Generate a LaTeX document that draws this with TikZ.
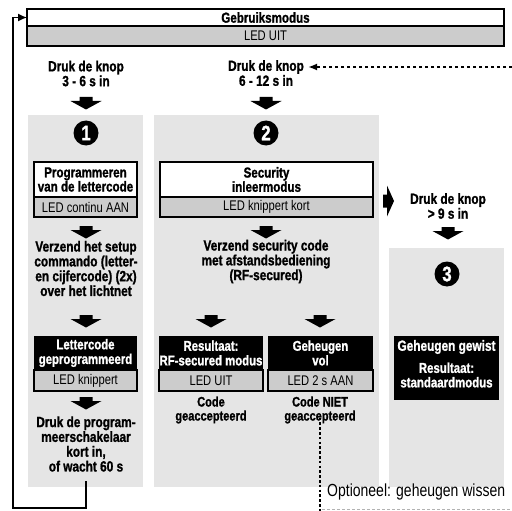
\documentclass[tikz,border=0pt]{standalone}
\usepackage{fontspec}
\setmainfont{Liberation Sans}[FakeStretch=0.8, BoldFeatures={FakeBold=1.2}]
\usetikzlibrary{arrows.meta}
\definecolor{panelgray}{RGB}{229,229,229}
\definecolor{ledgray}{RGB}{204,204,204}
\begin{document}
\begin{tikzpicture}[x=1pt,y=-1pt,
  bt/.style={font=\fontsize{14.8}{14.8}\selectfont\bfseries, align=center, inner sep=0pt},
  rt/.style={font=\fontsize{14}{14}\selectfont, align=center, inner sep=0pt},
  titlebox/.style={draw=black, line width=1.4pt, fill=white, inner sep=0pt, outer sep=0pt,
    align=center, font=\fontsize{14.5}{14.2}\selectfont\bfseries},
  darkbox/.style={fill=black, text=white, inner sep=0pt, outer sep=0pt,
    align=center, font=\fontsize{14.2}{14.6}\selectfont\bfseries},
  ledbox/.style={draw=black, line width=1.4pt, fill=ledgray, inner sep=0pt, outer sep=0pt,
    font=\fontsize{14}{14}\selectfont, minimum height=20pt},
  stepnum/.style={circle, fill=black, text=white, minimum size=25pt, inner sep=0pt,
    font=\fontsize{21}{21}\selectfont\bfseries},
  panel/.style={fill=panelgray},
  fatdown/.pic={\fill (-6.5,0) -- (6.5,0) -- (6.5,4) -- (15.5,4) -- (0,12.5) -- (-15.5,4) -- (-6.5,4) -- cycle;},
  fatright/.pic={\fill (0,-6.5) -- (0,6.5) -- (4,6.5) -- (4,15.5) -- (11,0) -- (4,-15.5) -- (4,-6.5) -- cycle;},
  backloop/.style={line width=1.4pt, -{Latex[length=9pt,width=8pt]}},
  dasharrow/.style={line width=2pt, dash pattern=on 3.5pt off 2.5pt, -{Latex[length=9pt,width=7pt]}},
  dotline/.style={line width=2.6pt, dash pattern=on 2.6pt off 2.2pt},
]
\useasboundingbox (0,0) rectangle (512,511);

% grey step panels
\fill[panel] (28,115) rectangle (143,487);
\fill[panel] (154,115) rectangle (379,487);
\fill[panel] (389,248) rectangle (504,487);

% normal mode
\node[titlebox, minimum width=477pt, minimum height=17pt] (gebr) at (265.5,17.5) {Gebruiksmodus};
\node[ledbox, anchor=north, minimum width=477pt] (gebrled) at (gebr.south) {LED UIT};

% entry conditions
\node[bt] (knop1) at (86,73.5) {Druk de knop\\3 - 6 s in};
\node[bt] (knop2a) at (266,67) {Druk de knop};
\node[bt] (knop2b) at (266,80.5) {6 - 12 s in};
\pic at (86,97) {fatdown};
\pic at (266,97) {fatdown};

% step 1
\node[stepnum] (n1) at (86,133) {1};
\node[titlebox, minimum width=103pt, minimum height=35pt] (t1) at (85.5,179.5) {Programmeren\\van de lettercode};
\node[ledbox, anchor=north, minimum width=103pt] (l1) at (t1.south) {LED continu AAN};
\pic at (86,226) {fatdown};
\node[bt] (send1) at (86,268.5) {Verzend het setup\\commando (letter-\\en cijfercode) (2x)\\over het lichtnet};
\pic at (86,315) {fatdown};
\node[darkbox, minimum width=103pt, minimum height=34pt] (r1) at (85.5,353) {Lettercode\\geprogrammeerd};
\node[ledbox, anchor=north, minimum width=103pt, minimum height=21pt] (rl1) at (r1.south) {LED knippert};
\pic at (86,397) {fatdown};
\node[bt] (wait1) at (86,444) {Druk de program-\\meerschakelaar\\kort in,\\of wacht 60 s};

% step 2
\node[stepnum] (n2) at (266,133) {2};
\node[titlebox, minimum width=213pt, minimum height=35pt] (t2) at (266.5,179.5) {Security\\inleermodus};
\node[ledbox, anchor=north, minimum width=213pt] (l2) at (t2.south) {LED knippert kort};
\pic at (266,226) {fatdown};
\node[bt] (send2) at (266,261.5) {Verzend security code\\met afstandsbediening\\(RF-secured)};
\pic at (211,315) {fatdown};
\pic at (320,315) {fatdown};
\node[darkbox, minimum width=104pt, minimum height=34pt] (r2a) at (211,353) {Resultaat:\\RF-secured modus};
\node[ledbox, anchor=north, minimum width=104pt, minimum height=21pt] (rl2a) at (r2a.south) {LED UIT};
\node[darkbox, minimum width=105pt, minimum height=34pt] (r2b) at (320.5,353) {Geheugen\\vol};
\node[ledbox, anchor=north, minimum width=105pt, minimum height=21pt] (rl2b) at (r2b.south) {LED 2 s AAN};
\node[bt, font=\fontsize{13.8}{14}\selectfont\bfseries] (ok2a) at (211,410) {Code\\geaccepteerd};
\node[bt, font=\fontsize{13.8}{14}\selectfont\bfseries] (ok2b) at (320,410) {Code NIET\\geaccepteerd};

% step 3
\pic at (383,201) {fatright};
\node[bt] (knop3) at (448,206) {Druk de knop\\> 9 s in};
\pic at (448,227) {fatdown};
\node[stepnum] (n3) at (447,274) {3};
\node[darkbox, minimum width=105pt, minimum height=64pt] (r3) at (446.5,368) {};
\node[bt, text=white] (r3a) at (446.5,347) {Geheugen gewist};
\node[bt, text=white, font=\fontsize{14.3}{14.5}\selectfont\bfseries] (r3b) at (446.5,375) {Resultaat:\\standaardmodus};

% return path to normal mode
\coordinate (loopstart) at (86,481);
\coordinate (loopcorner) at (13,508);
\draw[backloop] (loopstart) |- (loopcorner) |- (gebr.west);

% optional memory clear path
\coordinate (dashstart) at (512,67);
\draw[dasharrow] (dashstart) -- ([xshift=4pt]knop2a.east);
\coordinate (dotend) at (320,511);
\draw[dotline] ([yshift=6pt]ok2b.south) -- (dotend);
\node[rt, font=\fontsize{17.5}{17}\selectfont, anchor=west] (opt) at (327,492) {Optioneel: geheugen wissen};
\coordinate (faintstart) at (322,509);
\coordinate (faintend) at (512,509);
\draw[gray!60, line width=0.8pt, dash pattern=on 3pt off 2pt] (faintstart) -- (faintend);
\end{tikzpicture}
\end{document}
